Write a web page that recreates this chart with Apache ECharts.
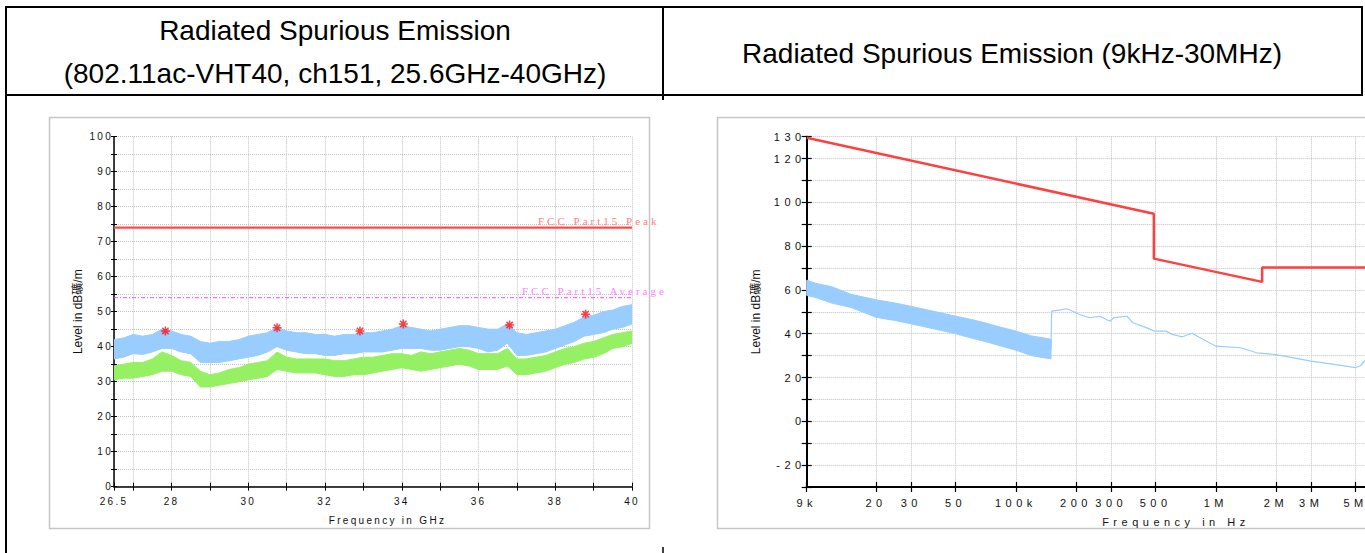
<!DOCTYPE html>
<html><head><meta charset="utf-8">
<script src="https://cdn.jsdelivr.net/npm/echarts@6/dist/echarts.min.js"></script>
<style>html,body{margin:0;padding:0;background:#fff;overflow:hidden;width:1365px;height:553px}#c{width:1530px;height:553px}</style>
</head><body><div id="c"></div>
<script>
// ===== Left chart: 25.6GHz-40GHz (frequency GHz, level dBµV/m) =====
const freqL = [26.5,26.75,27,27.25,27.5,27.75,28,28.25,28.5,28.75,29,
  29.25,29.5,29.75,30,30.25,30.5,30.75,31,31.25,31.5,31.75,
  32,32.25,32.5,32.75,33,33.25,33.5,33.75,34,34.25,34.5,
  34.75,35,35.25,35.5,35.75,36,36.25,36.5,36.75,37,37.25,
  37.5,37.75,38,38.25,38.5,38.75,39,39.25,39.5,39.75,40];
const peakHi = [42,42.5,43.5,43,43.5,45,44.5,43.5,43,41.5,41,
  41.5,41.5,42,43,43.5,44,45.5,44.5,44,44,43.5,
  43.5,43,43.5,43.5,44,44,44.5,45,46,45.5,45,
  44.5,45,45.5,46,46,45.5,45,45,46.5,44,43.5,
  44,44.5,45,46,47,48.5,49,50,50.5,51.5,52];
const peakLo = [36.5,37,38,37.8,38.5,39.5,39.5,38.5,38,35.5,35.5,
  35.5,36,36.5,37,37.5,38.5,40,39,38.5,38,38,
  37.5,37.5,38,38,38.5,38.5,38.5,39,39.5,39.5,39.5,
  39,39,39.5,40,40,39.5,38.5,39,41,37.5,37.5,
  38,38.5,39.5,40.5,41.5,43,43.5,44,45,45.5,46.5];
const avgHi = [34.5,35,35.5,35.5,36.5,38.5,37.5,36,35.5,33,32,
  32.5,33.5,34,35,35.5,36,38.5,37,36.5,36.5,36.5,
  36.5,36,36,36.5,37,37,37.5,38,38,37.5,38.5,
  38,38.5,39,39.5,39,38,38,38,39.5,36.5,36.5,
  37,37.5,38.5,39.5,40,41,41.5,42.5,43.5,44,44.5];
const avgLo = [30.5,31,31,31.5,32,33,33,32,31.5,28.5,28.5,
  29,29.5,30,30.5,31,31.5,33.5,33,32.5,32.5,32.5,
  32,31.5,31.5,32,32,32.5,33,33.5,34,33.5,33,
  33.5,34,34.5,35,34.5,33.5,33.5,33.5,34.5,32,32,
  32.5,33,34,35,35.5,36.5,37,38,39.5,40,41];
const markerFreq = [27.84,30.75,32.91,34.04,36.81,38.79];
const markerLevel = [44.5,45.4,44.5,46.5,46.2,49.3];
const limitPeakL = 74;
const limitAvgL = 54;
const tickL = [26.5,27,28,29,30,31,32,33,34,35,36,37,38,39,40];
const labelL = [26.5,28,30,32,34,36,38,40];

// ===== Right chart: 9kHz-30MHz (frequency Hz, level dBµV/m) =====
const noiseFreqR = [9000,10000,12000,15000,20000,25000,30000,40000,50000,60000,70000,80000,100000,120000,150000];
const noiseHiR = [64.5,63,61.5,58,55.5,54,52.5,50,48,46.5,45,43.5,41.2,39,37.5];
const noiseLoR = [57.5,56.5,54,52,47.5,46,44.5,42,40,38,36.5,35,32.5,30,28.5];
const traceFreqR = [150000,151000,165000,179000,193000,208000,234000,263000,295000,310000,
  360000,385000,448000,495000,564000,605000,680000,760000,1000000,1330000,
  1600000,2000000,2450000,3000000,3900000,5000000,5300000,5600000];
const traceLevelR = [33,50.3,50.8,51.4,50.3,48.8,47.3,48,45.7,47.4,
  48,45,42.8,41.2,41.2,39.7,38.6,40.2,34.3,33.6,
  31.3,30.5,29,27.5,26,24.5,25.5,28];
const limitFreqR = [9000,490000,490000,1705000,1705000,30000000];
const limitLevelR = [129.5,94.8,74.3,63.7,70.2,70.2];
const tickR = [9000,20000,30000,50000,100000,200000,300000,500000,1000000,2000000,3000000,5000000,10000000,20000000,30000000];
const tickLabelR = ['9k','20','30','50','100k','200','300','500','1M','2M','3M','5M','10M','20M','30M'];
const shownLabelR = [9000,20000,30000,50000,100000,200000,300000,500000,1000000,2000000,3000000,5000000];
const yLabelR = [130,120,100,80,60,40,20,0,-20];

const F = "'Liberation Sans','Noto Sans CJK SC',sans-serif";
const YNAME = 'Level in dB礦/m';

function band(xi, yi, fs, lo, hi, color){
  return {type:'custom', xAxisIndex:xi, yAxisIndex:yi, silent:true, clip:true,
    data: fs.map((f,i)=>[f, lo[i], hi[i]]),
    encode:{x:0, y:[1,2]},
    renderItem:(params, api)=>{
      if (params.dataIndex !== 0) return null;
      const up = fs.map((f,i)=>api.coord([f, hi[i]]));
      const dn = fs.map((f,i)=>api.coord([f, lo[i]])).reverse();
      return {type:'polygon', shape:{points:up.concat(dn)}, style:{fill:color, stroke:color, lineWidth:1}};
    }};
}
function labelR(v){
  for (let i=0;i<tickR.length;i++){ if (Math.abs(v-tickR[i])/tickR[i] < 1e-6) return tickLabelR[i]; }
  return '';
}
const grid = {type:'dotted', color:'#c2c2c2', width:1};
const black = '#000';

const option = {
  backgroundColor:'#fff',
  animation:false,
  grid:[
    {left:114, top:136.7, width:518, height:350},
    {left:806.7, top:136.7, width:704.5, height:350.3}
  ],
  xAxis:[
    {gridIndex:0, type:'value', min:26.5, max:40, position:'bottom',
     axisLine:{show:true, onZero:false, lineStyle:{color:black, width:1.5}},
     axisTick:{show:true, customValues:tickL, length:4, lineStyle:{color:black, width:1}},
     axisLabel:{customValues:labelL, margin:10, fontSize:10, color:'#111', fontFamily:F, formatter:v=>String(v)},
     splitLine:{show:true, lineStyle:grid},
     name:'Frequency in GHz', nameLocation:'middle', nameGap:29,
     nameTextStyle:{fontSize:10, color:'#111', fontFamily:F, padding:[0,0,0,29]}},
    {gridIndex:0, type:'value', min:26.5, max:40, position:'bottom',
     axisLine:{show:false, onZero:false},
     axisTick:{show:true, inside:true, customValues:tickL, length:4, lineStyle:{color:black, width:1}},
     axisLabel:{show:false}, splitLine:{show:false}},
    {gridIndex:1, type:'log', logBase:10, min:9000, max:30000000, position:'bottom',
     axisLine:{show:true, onZero:false, lineStyle:{color:black, width:2}},
     axisTick:{show:true, customValues:tickR, length:5, lineStyle:{color:black, width:1.2}},
     axisLabel:{customValues:shownLabelR, margin:10, fontSize:11, color:'#111', fontFamily:F, formatter:labelR},
     splitLine:{show:true, lineStyle:grid},
     name:'Frequency in Hz', nameLocation:'middle', nameGap:29,
     nameTextStyle:{fontSize:11, color:'#111', fontFamily:F, padding:[0,0,0,34]}},
    {gridIndex:1, type:'log', logBase:10, min:9000, max:30000000, position:'bottom',
     axisLine:{show:false, onZero:false},
     axisTick:{show:true, inside:true, customValues:tickR, length:5, lineStyle:{color:black, width:1.2}},
     axisLabel:{show:false}, splitLine:{show:false}}
  ],
  yAxis:[
    {gridIndex:0, type:'value', min:0, max:100, interval:5, position:'left',
     axisLine:{show:true, onZero:false, lineStyle:{color:black, width:1.5}},
     axisTick:{show:true, length:3, lineStyle:{color:black, width:1}},
     axisLabel:{margin:1, fontSize:10, color:'#111', fontFamily:F, formatter:v=>(v%10===0?String(v):'')},
     splitLine:{show:true, lineStyle:grid},
     name:YNAME, nameLocation:'middle', nameGap:30,
     nameTextStyle:{fontSize:12, color:'#111', fontFamily:F}},
    {gridIndex:0, type:'value', min:0, max:100, interval:5, position:'left',
     axisLine:{show:false, onZero:false},
     axisTick:{show:true, inside:true, length:3, lineStyle:{color:black, width:1}},
     axisLabel:{show:false}, splitLine:{show:false}},
    {gridIndex:1, type:'value', min:-30, max:130, interval:10, position:'left',
     axisLine:{show:true, onZero:false, lineStyle:{color:black, width:2}},
     axisTick:{show:true, length:5, lineStyle:{color:black, width:1.2}},
     axisLabel:{margin:1, fontSize:11, color:'#111', fontFamily:F, formatter:v=>(yLabelR.indexOf(v)>=0?String(v):'')},
     splitLine:{show:true, lineStyle:grid},
     name:YNAME, nameLocation:'middle', nameGap:45,
     nameTextStyle:{fontSize:12, color:'#111', fontFamily:F}},
    {gridIndex:1, type:'value', min:-30, max:130, interval:10, position:'left',
     axisLine:{show:false, onZero:false},
     axisTick:{show:true, inside:true, length:5, lineStyle:{color:black, width:1.2}},
     axisLabel:{show:false}, splitLine:{show:false}}
  ],
  series:[
    band(0,0,freqL,peakLo,peakHi,'#99ccff'),
    band(0,0,freqL,avgLo,avgHi,'#96f063'),
    {type:'line', xAxisIndex:0, yAxisIndex:0, silent:true, symbol:'none',
     data:[[freqL[0],limitPeakL],[freqL[freqL.length-1],limitPeakL]],
     lineStyle:{color:'#ff4a4a', width:2.2},
     markPoint:{symbol:'circle', symbolSize:0, silent:true,
       data:[{coord:[freqL[freqL.length-1],limitPeakL]}],
       label:{show:true, position:[-94,-12], formatter:'FCC Part15 Peak', color:'#ff8080', fontSize:11, fontFamily:"'Liberation Serif',serif"}}},
    {type:'line', xAxisIndex:0, yAxisIndex:0, silent:true, symbol:'none',
     data:[[freqL[0],limitAvgL],[freqL[freqL.length-1],limitAvgL]],
     lineStyle:{color:'#ff44ff', width:1, type:[4,2,1,2]},
     markPoint:{symbol:'circle', symbolSize:0, silent:true,
       data:[{coord:[freqL[freqL.length-1],limitAvgL]}],
       label:{show:true, position:[-110,-12], formatter:'FCC Part15 Average', color:'#ff80ff', fontSize:11, fontFamily:"'Liberation Serif',serif"}}},
    {type:'scatter', xAxisIndex:0, yAxisIndex:0, silent:true,
     symbol:'path://M5,0L5,10M0,5L10,5M1.5,1.5L8.5,8.5M8.5,1.5L1.5,8.5', symbolSize:9,
     itemStyle:{color:'#ff1010', borderColor:'#ff1010', borderWidth:1.5},
     data:markerFreq.map((f,i)=>[f, markerLevel[i]])},
    band(2,2,noiseFreqR,noiseLoR,noiseHiR,'#99ccff'),
    {type:'line', xAxisIndex:2, yAxisIndex:2, silent:true, symbol:'none',
     data:traceFreqR.map((f,i)=>[f, traceLevelR[i]]),
     lineStyle:{color:'#99ccff', width:1.2}},
    {type:'line', xAxisIndex:2, yAxisIndex:2, silent:true, symbol:'none',
     data:limitFreqR.map((f,i)=>[f, limitLevelR[i]]),
     lineStyle:{color:'#ff4040', width:2.5}}
  ],
  graphic:[
    {type:'rect', silent:true, z:-5, shape:{x:49.5,y:117.5,width:600,height:411}, style:{fill:'none', stroke:'#c6c6c6', lineWidth:1.5}},
    {type:'rect', silent:true, z:-5, shape:{x:717.5,y:117.5,width:720,height:411}, style:{fill:'none', stroke:'#c6c6c6', lineWidth:1.5}},
    {type:'line', silent:true, shape:{x1:5,y1:7,x2:1363,y2:7}, style:{stroke:'#000', lineWidth:2}},
    {type:'line', silent:true, shape:{x1:6,y1:6,x2:6,y2:553}, style:{stroke:'#000', lineWidth:2}},
    {type:'line', silent:true, shape:{x1:5,y1:95,x2:1363,y2:95}, style:{stroke:'#000', lineWidth:2}},
    {type:'line', silent:true, shape:{x1:663,y1:7,x2:663,y2:100}, style:{stroke:'#000', lineWidth:2}},
    {type:'line', silent:true, shape:{x1:1362,y1:7,x2:1362,y2:95}, style:{stroke:'#000', lineWidth:2}},
    {type:'line', silent:true, shape:{x1:663,y1:547,x2:663,y2:553}, style:{stroke:'#000', lineWidth:1.5}},
    {type:'text', silent:true, x:335, y:30, style:{text:'Radiated Spurious Emission', fontSize:28, fontFamily:F, fill:'#000', align:'center', verticalAlign:'middle', textAlign:'center', textVerticalAlign:'middle'}},
    {type:'text', silent:true, x:335, y:73, style:{text:'(802.11ac-VHT40, ch151, 25.6GHz-40GHz)', fontSize:28, fontFamily:F, fill:'#000', align:'center', verticalAlign:'middle', textAlign:'center', textVerticalAlign:'middle'}},
    {type:'text', silent:true, x:1012, y:53, style:{text:'Radiated Spurious Emission (9kHz-30MHz)', fontSize:28, fontFamily:F, fill:'#000', align:'center', verticalAlign:'middle', textAlign:'center', textVerticalAlign:'middle'}}
  ]
};
const chart = echarts.init(document.getElementById('c'), null, {renderer:'svg', width:1530, height:553});
chart.setOption(option);
function spaceText(){
  document.querySelectorAll('#c text').forEach(t=>{
    const s = t.textContent || '';
    let ls = 0;
    if (s.indexOf('Radiated')===0 || s.indexOf('(802')===0 || s.indexOf('Level')===0) ls = 0;
    else if (s.indexOf('FCC')===0) ls = 3;
    else { const r = t.getBoundingClientRect(); ls = r.left < 690 ? 2.3 : 4.5; }
    t.style.letterSpacing = ls ? ls + 'px' : '';
  });
}
spaceText();
chart.on('finished', spaceText);
</script>
</body></html>
